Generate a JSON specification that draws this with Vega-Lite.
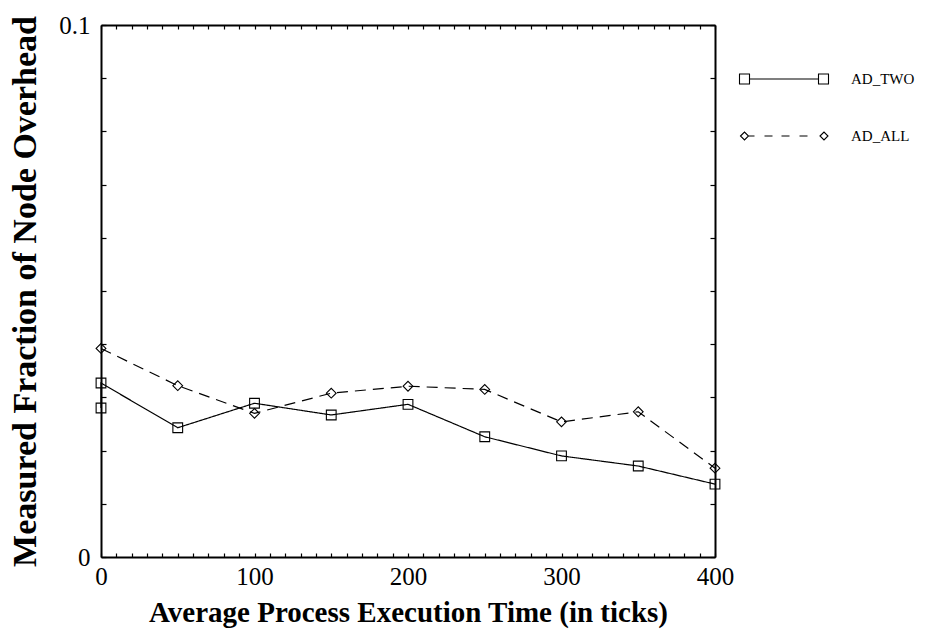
{
  "$schema": "https://vega.github.io/schema/vega-lite/v6.json",
  "width": 614,
  "height": 532,
  "autosize": "none",
  "padding": {"left": 101, "top": 25, "right": 213, "bottom": 77},
  "background": "white",
  "config": {"view": {"stroke": null}, "font": "Liberation Serif"},
  "data": {
    "values": [
      {"series": "AD_TWO", "i": 0, "x": 0, "y": 0.0280},
      {"series": "AD_TWO", "i": 1, "x": 0, "y": 0.0327},
      {"series": "AD_TWO", "i": 2, "x": 50, "y": 0.0243},
      {"series": "AD_TWO", "i": 3, "x": 100, "y": 0.0289},
      {"series": "AD_TWO", "i": 4, "x": 150, "y": 0.0267},
      {"series": "AD_TWO", "i": 5, "x": 200, "y": 0.0287},
      {"series": "AD_TWO", "i": 6, "x": 250, "y": 0.0226},
      {"series": "AD_TWO", "i": 7, "x": 300, "y": 0.0190},
      {"series": "AD_TWO", "i": 8, "x": 350, "y": 0.0171},
      {"series": "AD_TWO", "i": 9, "x": 400, "y": 0.0137},
      {"series": "AD_ALL", "i": 0, "x": 0, "y": 0.0392},
      {"series": "AD_ALL", "i": 1, "x": 50, "y": 0.0322},
      {"series": "AD_ALL", "i": 2, "x": 100, "y": 0.0270},
      {"series": "AD_ALL", "i": 3, "x": 150, "y": 0.0308},
      {"series": "AD_ALL", "i": 4, "x": 200, "y": 0.0321},
      {"series": "AD_ALL", "i": 5, "x": 250, "y": 0.0315},
      {"series": "AD_ALL", "i": 6, "x": 300, "y": 0.0254},
      {"series": "AD_ALL", "i": 7, "x": 350, "y": 0.0273},
      {"series": "AD_ALL", "i": 8, "x": 400, "y": 0.0167}
    ]
  },
  "layer": [
    {
      "mark": {"type": "line", "color": "black", "strokeWidth": 1.2},
      "encoding": {
        "x": {
          "field": "x", "type": "quantitative",
          "scale": {"domain": [0, 400], "nice": false, "zero": false},
          "axis": {
            "orient": "bottom",
            "values": [0,10,20,30,40,50,60,70,80,90,100,110,120,130,140,150,160,170,180,190,200,210,220,230,240,250,260,270,280,290,300,310,320,330,340,350,360,370,380,390,400],
            "tickSize": -4,
            "encode": {"ticks": {"update": {"y2": {"signal": "datum.value % 50 === 0 ? -9 : -4"}}}},
            "labelExpr": "datum.value % 100 === 0 ? datum.label : ''",
            "labelFont": "Liberation Serif", "labelFontSize": 25, "labelColor": "black",
            "labelPadding": 11, "labelFlush": false, "labelOverlap": false,
            "domainColor": "black", "domainWidth": 2, "tickColor": "black", "tickWidth": 1.2,
            "grid": false,
            "title": "Average Process Execution Time (in ticks)",
            "titleFont": "Liberation Serif", "titleFontSize": 29, "titleFontWeight": "bold", "titleColor": "black",
            "titlePadding": 9
          }
        },
        "y": {
          "field": "y", "type": "quantitative",
          "scale": {"domain": [0, 0.1], "nice": false},
          "axis": {
            "orient": "left",
            "values": [0,0.01,0.02,0.03,0.04,0.05,0.06,0.07,0.08,0.09,0.1],
            "tickSize": -5,
            "labelExpr": "datum.value === 0 ? '0' : (datum.value > 0.099 ? '0.1' : '')",
            "labelFont": "Liberation Serif", "labelFontSize": 25, "labelColor": "black",
            "labelPadding": 16, "labelFlush": false, "labelOverlap": false,
            "domainColor": "black", "domainWidth": 2, "tickColor": "black", "tickWidth": 1.2,
            "grid": false,
            "title": "Measured Fraction of Node Overhead",
            "titleFont": "Liberation Serif", "titleFontSize": 34, "titleFontWeight": "bold", "titleColor": "black",
            "titlePadding": 16
          }
        },
        "strokeDash": {
          "field": "series", "type": "nominal",
          "scale": {"domain": ["AD_ALL", "AD_TWO"], "range": [[11, 7], [1, 0]]},
          "legend": null
        },
        "order": {"field": "i", "type": "quantitative"}
      }
    },
    {
      "mark": {"type": "point", "filled": false, "color": "black", "strokeWidth": 1.1, "opacity": 1, "size": 95},
      "encoding": {
        "x": {
          "field": "x", "type": "quantitative",
          "scale": {"domain": [0, 400], "nice": false, "zero": false},
          "axis": {
            "orient": "top",
            "values": [0,10,20,30,40,50,60,70,80,90,100,110,120,130,140,150,160,170,180,190,200,210,220,230,240,250,260,270,280,290,300,310,320,330,340,350,360,370,380,390,400],
            "tickSize": -4,
            "encode": {"ticks": {"update": {"y2": {"signal": "datum.value % 50 === 0 ? 9 : 4"}}}},
            "labels": false, "title": null,
            "domainColor": "black", "domainWidth": 2, "tickColor": "black", "tickWidth": 1.2,
            "grid": false
          }
        },
        "y": {
          "field": "y", "type": "quantitative",
          "scale": {"domain": [0, 0.1], "nice": false},
          "axis": {
            "orient": "right",
            "values": [0,0.01,0.02,0.03,0.04,0.05,0.06,0.07,0.08,0.09,0.1],
            "tickSize": -5,
            "labels": false, "title": null,
            "domainColor": "black", "domainWidth": 2, "tickColor": "black", "tickWidth": 1.2,
            "grid": false
          }
        },
        "shape": {
          "field": "series", "type": "nominal",
          "scale": {"domain": ["AD_ALL", "AD_TWO"], "range": ["diamond", "square"]},
          "legend": null
        }
      }
    },
    {
      "mark": {"type": "point", "filled": false, "color": "black", "strokeWidth": 1.1, "opacity": 0},
      "encoding": {
        "x": {
          "field": "x", "type": "quantitative",
          "scale": {"domain": [0, 400], "nice": false, "zero": false},
          "axis": null
        },
        "y": {
          "field": "y", "type": "quantitative",
          "scale": {"domain": [0, 0.1], "nice": false},
          "axis": null
        },
        "shape": {
          "field": "series", "type": "nominal",
          "scale": {
            "domain": ["AD_TWO", "AD_ALL"],
            "range": [
              "M-1,-1H1V1H-1ZM1,0H14.8M14.8,-1H16.8V1H14.8Z",
              "M-0.8,0L0,-0.8L0.8,0L0,0.8ZM0.8,0H2M4,0H5.6M7.4,0H9M11,0H12.6M15.1,0L15.9,-0.8L16.7,0L15.9,0.8Z"
            ]
          },
          "legend": {
            "orient": "none", "legendX": 636, "legendY": 46.5, "padding": 0,
            "title": null,
            "symbolSize": 100, "symbolOpacity": 1,
            "symbolStrokeColor": "black", "symbolFillColor": "transparent", "symbolStrokeWidth": 1.1,
            "labelFont": "Liberation Serif", "labelFontSize": 15, "labelColor": "black",
            "labelOffset": 99, "rowPadding": 41
          }
        }
      }
    }
  ],
  "resolve": {
    "axis": {"x": "independent", "y": "independent"},
    "scale": {"shape": "independent"},
    "legend": {"shape": "independent"}
  }
}
